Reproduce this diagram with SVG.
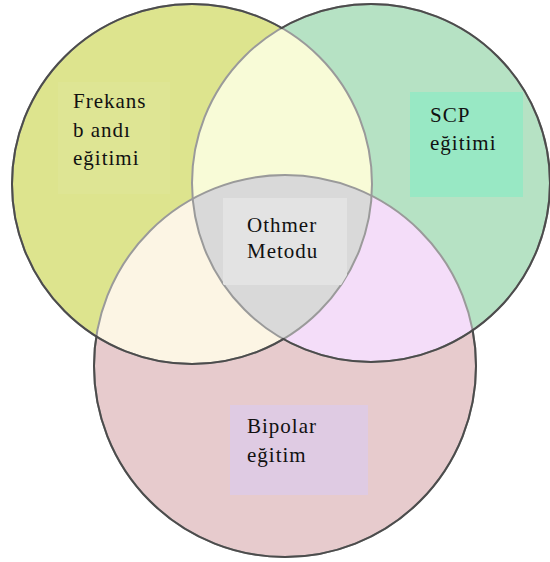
<svg xmlns="http://www.w3.org/2000/svg" width="550" height="562" viewBox="0 0 550 562">
<style>
.lbl{font-family:"Liberation Serif","Times New Roman",serif;font-size:21px;fill:#111111;letter-spacing:1px}
.light{fill:none;stroke:#9a9a9a;stroke-width:2}
.dark{fill:none;stroke:#4c4c4c;stroke-width:2}
</style>
<defs>
<clipPath id="cA"><circle cx="192" cy="184" r="180"/></clipPath>
<clipPath id="cB"><circle cx="371" cy="183" r="179"/></clipPath>
<mask id="notB" maskUnits="userSpaceOnUse" x="0" y="0" width="550" height="562">
<rect x="0" y="0" width="550" height="562" fill="#fff"/>
<circle cx="371" cy="183" r="178" fill="#000"/>
</mask>
<mask id="notA" maskUnits="userSpaceOnUse" x="0" y="0" width="550" height="562">
<rect x="0" y="0" width="550" height="562" fill="#fff"/>
<circle cx="192" cy="184" r="179" fill="#000"/>
</mask>
<mask id="notAB" maskUnits="userSpaceOnUse" x="0" y="0" width="550" height="562">
<rect x="0" y="0" width="550" height="562" fill="#fff"/>
<circle cx="192" cy="184" r="179" fill="#000"/>
<circle cx="371" cy="183" r="178" fill="#000"/>
</mask>
</defs>
<rect x="0" y="0" width="550" height="562" fill="#ffffff"/>
<g id="regions">
<circle cx="192" cy="184" r="180" fill="#dde48e"/>
<circle cx="371" cy="183" r="179" fill="#b6e2c4"/>
<circle cx="285" cy="366" r="191" fill="#e7cbcd"/>
<circle cx="371" cy="183" r="179" fill="#f8fbd7" clip-path="url(#cA)"/>
<circle cx="285" cy="366" r="191" fill="#fcf5e4" clip-path="url(#cA)"/>
<circle cx="285" cy="366" r="191" fill="#f4ddf9" clip-path="url(#cB)"/>
<g clip-path="url(#cA)"><circle cx="285" cy="366" r="191" fill="#d9d9d9" clip-path="url(#cB)"/></g>
</g>
<g id="connectors">
<circle class="light" cx="192" cy="184" r="180"/>
<circle class="light" cx="371" cy="183" r="179"/>
<circle class="light" cx="285" cy="366" r="191"/>
<circle class="dark" cx="192" cy="184" r="180" mask="url(#notB)"/>
<circle class="dark" cx="371" cy="183" r="179" mask="url(#notA)"/>
<circle class="dark" cx="285" cy="366" r="191" mask="url(#notAB)"/>
</g>
<g id="frekans">
<rect x="58" y="82" width="112" height="112" fill="#e1e79e" opacity="0.4"/>
<text class="lbl" x="73" y="108">Frekans</text>
<text class="lbl" x="73" y="137">b andı</text>
<text class="lbl" x="73" y="165">eğitimi</text>
</g>
<g id="scp">
<rect x="410" y="92" width="113" height="105" fill="#98e8c4"/>
<text class="lbl" x="430" y="122">SCP</text>
<text class="lbl" x="430" y="150">eğitimi</text>
</g>
<g id="othmer">
<g clip-path="url(#cA)"><rect x="223" y="198" width="124" height="87" fill="#e3e3e3" clip-path="url(#cB)"/></g>
<text class="lbl" x="247" y="232">Othmer</text>
<text class="lbl" x="247" y="258">Metodu</text>
</g>
<g id="bipolar">
<rect x="230" y="405" width="138" height="90" fill="#dfcbe3"/>
<text class="lbl" x="247" y="433">Bipolar</text>
<text class="lbl" x="247" y="462">eğitim</text>
</g>
</svg>
